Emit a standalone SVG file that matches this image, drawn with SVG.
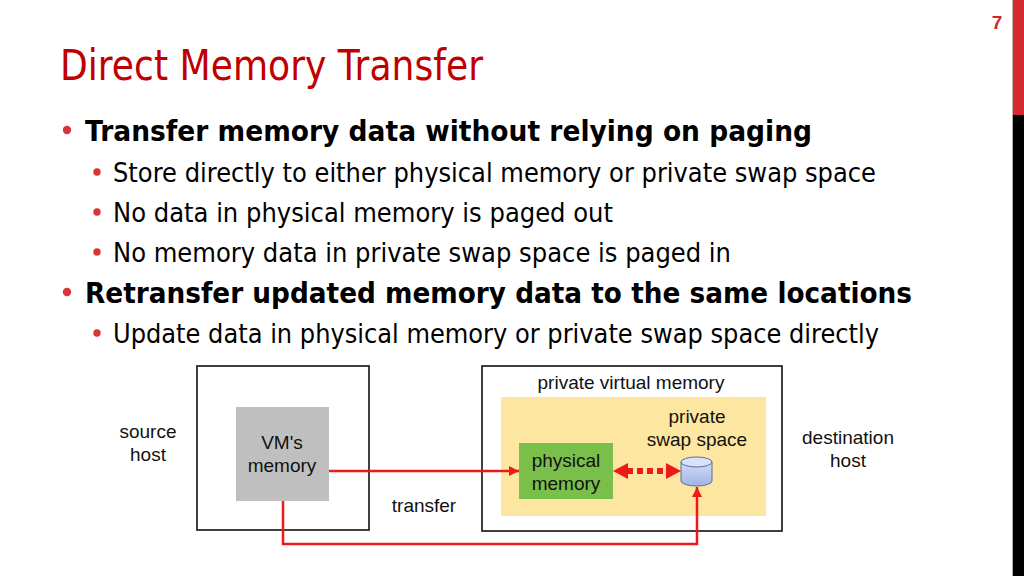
<svg xmlns="http://www.w3.org/2000/svg" width="1024" height="576" viewBox="0 0 1024 576">
<style>
.title{font-family:"DejaVu Sans","Noto Sans",sans-serif;font-size:42px;fill:#c00000}
.b1{font-family:"DejaVu Sans","Noto Sans",sans-serif;font-size:29px;font-weight:bold;fill:#000}
.b2{font-family:"DejaVu Sans","Noto Sans",sans-serif;font-size:26px;fill:#000}
.lbl{font-family:"Liberation Sans",Arial,sans-serif;font-size:19px;fill:#111;text-anchor:middle}
.dot{fill:#d9343a}
.box{fill:#fff;stroke:#111;stroke-width:1.6}
.red{fill:none;stroke:#ee1a1a;stroke-width:2.5}
</style>
<defs>
<marker id="ah" viewBox="0 0 10 10" refX="10" refY="5" markerWidth="12" markerHeight="10" markerUnits="userSpaceOnUse" orient="auto">
<path d="M0,0 L10,5 L0,10 Z" fill="#ee1a1a"/>
</marker>
<linearGradient id="cyl" x1="0" y1="0" x2="0" y2="1">
<stop offset="0" stop-color="#d2ddf7"/>
<stop offset="1" stop-color="#9fb3e4"/>
</linearGradient>
</defs>
<rect width="1024" height="576" fill="#fff"/>
<g id="sidebar">
<rect x="1012.5" y="0" width="11.5" height="115" fill="#d32a30"/>
<rect x="1012.5" y="115" width="11.5" height="461" fill="#000"/>
<line x1="1012.5" y1="0" x2="1012.5" y2="576" stroke="#bbb" stroke-width="0.8"/>
</g>
<text x="997" y="29" font-family="Liberation Sans,Arial,sans-serif" font-size="19" font-weight="bold" fill="#c8282e" text-anchor="middle">7</text>
<text class="title" x="60" y="80" textLength="423" lengthAdjust="spacingAndGlyphs">Direct Memory Transfer</text>
<g id="bullets">
<circle class="dot" cx="67" cy="130" r="4.2"/>
<text class="b1" x="85" y="141" textLength="727" lengthAdjust="spacingAndGlyphs">Transfer memory data without relying on paging</text>
<circle class="dot" cx="97" cy="172" r="3.7"/>
<text class="b2" x="113" y="182" textLength="763" lengthAdjust="spacingAndGlyphs">Store directly to either physical memory or private swap space</text>
<circle class="dot" cx="97" cy="212" r="3.7"/>
<text class="b2" x="113" y="222" textLength="500" lengthAdjust="spacingAndGlyphs">No data in physical memory is paged out</text>
<circle class="dot" cx="97" cy="252" r="3.7"/>
<text class="b2" x="113" y="262" textLength="618" lengthAdjust="spacingAndGlyphs">No memory data in private swap space is paged in</text>
<circle class="dot" cx="67" cy="292" r="4.2"/>
<text class="b1" x="85" y="303" textLength="827" lengthAdjust="spacingAndGlyphs">Retransfer updated memory data to the same locations</text>
<circle class="dot" cx="97" cy="333" r="3.7"/>
<text class="b2" x="113" y="343" textLength="766" lengthAdjust="spacingAndGlyphs">Update data in physical memory or private swap space directly</text>
</g>
<g id="source-host">
<rect class="box" x="197" y="366" width="172" height="164"/>
<text class="lbl" x="148" y="438">source</text>
<text class="lbl" x="148" y="461">host</text>
</g>
<g id="vm-memory">
<rect x="236" y="407" width="93" height="94" fill="#bfbfbf"/>
<text class="lbl" x="282" y="449">VM's</text>
<text class="lbl" x="282" y="472">memory</text>
</g>
<g id="destination-host">
<rect class="box" x="482" y="366" width="300" height="165"/>
<text class="lbl" x="631" y="389">private virtual memory</text>
<text class="lbl" x="848" y="444">destination</text>
<text class="lbl" x="848" y="467">host</text>
</g>
<g id="private-virtual-memory">
<rect x="501" y="397" width="265" height="119" fill="#fde7a0"/>
</g>
<g id="physical-memory">
<rect x="519" y="443" width="94" height="56" fill="#7bbf4b"/>
<text class="lbl" x="566" y="467">physical</text>
<text class="lbl" x="566" y="490">memory</text>
</g>
<g id="swap-space">
<text class="lbl" x="697" y="423">private</text>
<text class="lbl" x="697" y="446">swap space</text>
<path d="M681,462 L681,481 A15.5,5 0 0 0 712,481 L712,462 Z" fill="url(#cyl)" stroke="#5b6b9e" stroke-width="1"/>
<ellipse cx="696.5" cy="462" rx="15.5" ry="5" fill="#d8e2f8" stroke="#5b6b9e" stroke-width="1"/>
</g>
<g id="connectors">
<line class="red" x1="329" y1="471" x2="519" y2="471" marker-end="url(#ah)"/>
<polyline class="red" points="283,501 283,544 697,544 697,487" marker-end="url(#ah)"/>
<line x1="627" y1="471" x2="667" y2="471" stroke="#ee1a1a" stroke-width="6" stroke-dasharray="6,4"/>
<path d="M613,471 L628,463 L628,479 Z" fill="#ee1a1a"/>
<path d="M681,471 L666,463 L666,479 Z" fill="#ee1a1a"/>
<text class="lbl" x="424" y="512">transfer</text>
</g>
</svg>
